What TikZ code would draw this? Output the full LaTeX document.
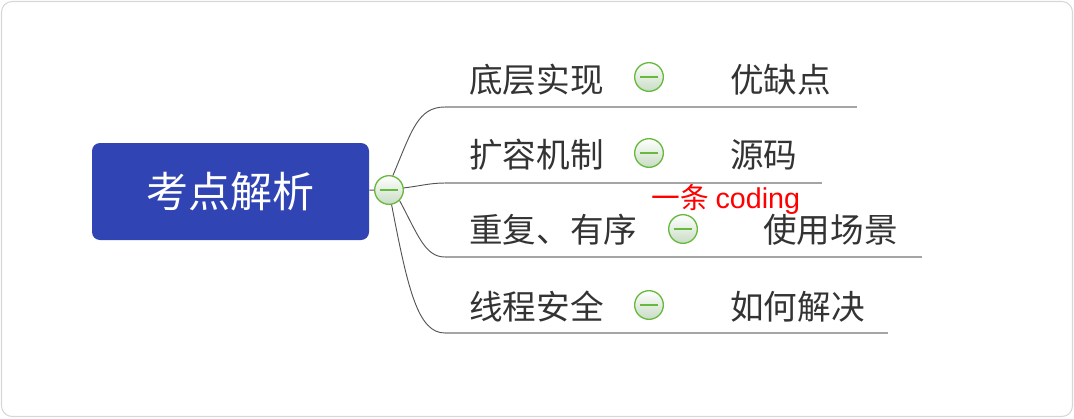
\documentclass[tikz,border=0pt]{standalone}
\usepackage{fontspec}
\setmainfont{Noto Sans CJK SC}
\newfontfamily\latinsans{Liberation Sans}
\usepackage{tikz}
\usetikzlibrary{positioning}
\definecolor{hubblue}{RGB}{48,68,180}
\definecolor{inkgray}{RGB}{51,51,51}
\definecolor{rulegray}{RGB}{165,165,165}
\definecolor{wiregray}{RGB}{85,85,85}
\definecolor{framegray}{RGB}{215,215,215}
\definecolor{btngreen}{RGB}{104,186,62}
\definecolor{btnfill}{RGB}{200,220,196}
\tikzset{
	x = 0.75pt, y = -0.75pt,
	root/.style = {rounded corners = 6pt, fill = hubblue, text = white,
		minimum width = 207.75pt, minimum height = 72.75pt,
		font = \fontsize{31.5}{36}\selectfont},
	topic/.style = {anchor = west, inner sep = 0pt, text = inkgray,
		font = \fontsize{25.2}{29}\selectfont},
	toggle/.style = {circle, draw = btngreen, line width = 1pt,
		minimum size = 21.5pt, inner sep = 0pt,
		top color = white, bottom color = btnfill,
		path picture = {\draw[btngreen, line width = 1.4pt]
			([xshift=-6.5pt]path picture bounding box.center) --
			([xshift=6.5pt]path picture bounding box.center);}},
	branch/.style = {draw = wiregray, line width = 0.7pt},
	rule/.style = {draw = rulegray, line width = 1.5pt},
}
\begin{document}
\begin{tikzpicture}
	\useasboundingbox (0,0) rectangle (1074,418);
	\draw[framegray, line width = 0.8pt, rounded corners = 8pt] (1.5,1.5) rectangle (1072.5,416.5);

	% root and hub
	\node (root) [root] at (230.5,191.5) {考点解析};
	\node (hub) [toggle] at (389,190) {};
	\path[branch] (root) -- (hub);

	% topics
	\node (t1) [topic] at (469,80) {底层实现};
	\node (t2) [topic] at (469,155) {扩容机制};
	\node (t3) [topic] at (469,230) {重复、有序};
	\node (t4) [topic] at (469,307) {线程安全};

	\node (g1) [toggle] at (649,77) {};
	\node (g2) [toggle] at (649,153) {};
	\node (g3) [toggle] at (683,229) {};
	\node (g4) [toggle] at (649,305) {};

	\node (s1) [topic] at (730,80) {优缺点};
	\node (s2) [topic] at (730,155) {源码};
	\node (s3) [topic] at (763,230) {使用场景};
	\node (s4) [topic] at (730,307) {如何解决};

	% underlines
	\coordinate (a1) at (445,107); \coordinate (b1) at (857,107);
	\coordinate (a2) at (445,183); \coordinate (b2) at (822,183);
	\coordinate (a3) at (445,257); \coordinate (b3) at (922,257);
	\coordinate (a4) at (445,333); \coordinate (b4) at (888,333);
	\path[rule] (a1) -- (b1);
	\path[rule] (a2) -- (b2);
	\path[rule] (a3) -- (b3);
	\path[rule] (a4) -- (b4);

	% branches
	\path[branch] (hub.75) .. controls (412,130) and (418,107) .. (a1);
	\path[branch] (hub.8) .. controls (420,186) and (430,183) .. (a2);
	\path[branch] (hub.-45) .. controls (418,235) and (425,257) .. (a3);
	\path[branch] (hub.-80) .. controls (408,290) and (418,333) .. (a4);

	\node (mark) [text = red, inner sep = 0pt, font = \fontsize{21.5}{24}\selectfont] at (726,199) {一条 {\latinsans coding}};
\end{tikzpicture}
\end{document}
